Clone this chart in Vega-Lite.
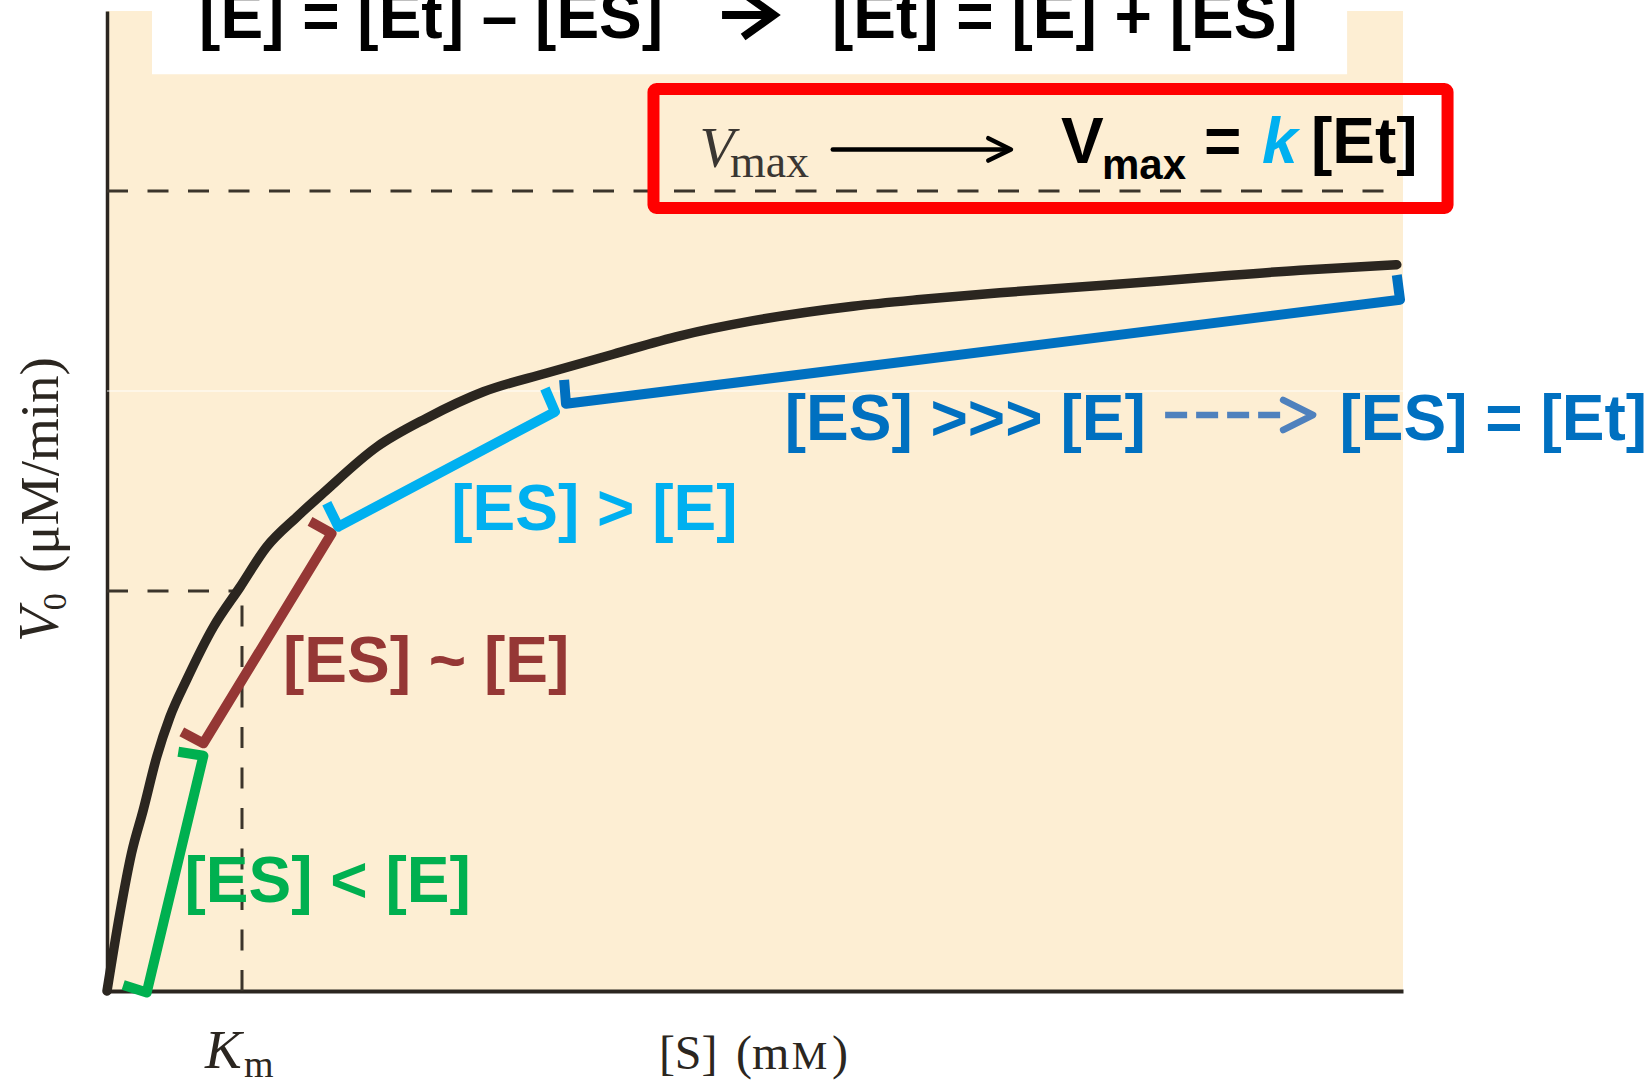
{
  "$schema": "https://vega.github.io/schema/vega-lite/v6.json",
  "width": 1296,
  "height": 980,
  "autosize": "none",
  "padding": {"left": 107, "top": 11, "right": 247, "bottom": 91},
  "background": "#ffffff",
  "config": {"view": {"stroke": null, "fill": "#fdeed3"}},
  "datasets": {
    "curve": [
      {"s": 0, "v": 0}, {"s": 0.48, "v": 9.75}, {"s": 0.91, "v": 17.25}, {"s": 1.34, "v": 22.6},
      {"s": 1.84, "v": 29.25}, {"s": 2.33, "v": 34.25}, {"s": 2.95, "v": 38.9}, {"s": 3.94, "v": 45.5},
      {"s": 4.93, "v": 50.5}, {"s": 5.91, "v": 55.5}, {"s": 7.03, "v": 59.25}, {"s": 8.01, "v": 62.25},
      {"s": 9.99, "v": 68.0}, {"s": 11.84, "v": 71.6}, {"s": 13.94, "v": 74.9}, {"s": 16.29, "v": 77.25},
      {"s": 18.75, "v": 79.6}, {"s": 21.22, "v": 81.9}, {"s": 23.94, "v": 83.79}, {"s": 27.63, "v": 85.6},
      {"s": 30.11, "v": 86.44}, {"s": 33.07, "v": 87.28}, {"s": 36.78, "v": 88.19}, {"s": 40.48, "v": 89.15},
      {"s": 44.19, "v": 90.1}, {"s": 47.77, "v": 90.79}
    ],
    "brackets": [
      {"phase": "low", "o": 1, "s": 0.6, "v": 0.75},
      {"phase": "low", "o": 2, "s": 1.47, "v": -0.2},
      {"phase": "low", "o": 3, "s": 3.57, "v": 29.4},
      {"phase": "low", "o": 4, "s": 2.64, "v": 29.9},
      {"phase": "near", "o": 1, "s": 2.77, "v": 32.4},
      {"phase": "near", "o": 2, "s": 3.57, "v": 30.96},
      {"phase": "near", "o": 3, "s": 8.32, "v": 57.2},
      {"phase": "near", "o": 4, "s": 7.52, "v": 58.7},
      {"phase": "high", "o": 1, "s": 8.14, "v": 60.96},
      {"phase": "high", "o": 2, "s": 8.57, "v": 58.04},
      {"phase": "high", "o": 3, "s": 16.59, "v": 72.4},
      {"phase": "high", "o": 4, "s": 16.22, "v": 75.3},
      {"phase": "sat", "o": 1, "s": 16.93, "v": 76.4},
      {"phase": "sat", "o": 2, "s": 17.0, "v": 73.4},
      {"phase": "sat", "o": 3, "s": 47.89, "v": 86.4},
      {"phase": "sat", "o": 4, "s": 47.77, "v": 89.5}
    ],
    "guides": [
      {"kind": "seam", "s": 0, "v": 75, "s2": 48, "v2": 75},
      {"kind": "dash", "s": 0, "v": 100, "s2": 48, "v2": 100},
      {"kind": "dash", "s": 0, "v": 50, "s2": 5, "v2": 50},
      {"kind": "dash", "s": 5, "v": 0, "s2": 5, "v2": 50}
    ],
    "arrows": [
      {"arrow": "top", "part": "shaft", "o": 1, "s": 22.78, "v": 122},
      {"arrow": "top", "part": "shaft", "o": 2, "s": 24.5, "v": 122},
      {"arrow": "top", "part": "head", "o": 1, "s": 23.56, "v": 124.75},
      {"arrow": "top", "part": "head", "o": 2, "s": 24.7, "v": 122},
      {"arrow": "top", "part": "head", "o": 3, "s": 23.56, "v": 119.25},
      {"arrow": "box", "part": "shaft", "o": 1, "s": 26.88, "v": 105.2},
      {"arrow": "box", "part": "shaft", "o": 2, "s": 33.3, "v": 105.2},
      {"arrow": "box", "part": "head", "o": 1, "s": 32.64, "v": 106.6},
      {"arrow": "box", "part": "head", "o": 2, "s": 33.48, "v": 105.2},
      {"arrow": "box", "part": "head", "o": 3, "s": 32.64, "v": 103.8},
      {"arrow": "sat", "part": "shaft", "o": 1, "s": 39.19, "v": 72},
      {"arrow": "sat", "part": "shaft", "o": 2, "s": 43.45, "v": 72},
      {"arrow": "sat", "part": "head", "o": 1, "s": 43.56, "v": 73.875},
      {"arrow": "sat", "part": "head", "o": 2, "s": 44.67, "v": 72},
      {"arrow": "sat", "part": "head", "o": 3, "s": 43.56, "v": 70.125}
    ],
    "labels": [
      {"role": "bold", "phase": "low", "t": "[ES] < [E]", "s": 2.87, "v": 11.13},
      {"role": "bold", "phase": "near", "t": "[ES] ~ [E]", "s": 6.52, "v": 38.66},
      {"role": "bold", "phase": "high", "t": "[ES] > [E]", "s": 12.75, "v": 57.6},
      {"role": "bold", "phase": "sat", "t": "[ES] >>> [E]", "s": 25.1, "v": 68.9},
      {"role": "bold", "phase": "sat", "t": "[ES] = [Et]", "s": 45.65, "v": 68.9},
      {"role": "bold", "phase": "none", "t": "[E] = [Et] – [ES]", "s": 3.41, "v": 119.1},
      {"role": "bold", "phase": "none", "t": "[Et] = [E] + [ES]", "s": 26.85, "v": 119.1},
      {"role": "bold", "phase": "none", "t": "V", "s": 35.33, "v": 103.46},
      {"role": "bold", "phase": "none", "t": "=", "s": 40.63, "v": 103.46},
      {"role": "bold", "phase": "none", "t": "[Et]", "s": 44.59, "v": 103.46},
      {"role": "boldSub", "t": "max", "s": 36.85, "v": 101.5},
      {"role": "rate", "t": "k", "s": 42.78, "v": 103.46},
      {"role": "vmaxV", "t": "V", "s": 21.94, "v": 103.04},
      {"role": "vmaxSub", "t": "max", "s": 23.07, "v": 101.79},
      {"role": "kmK", "t": "K", "s": 3.63, "v": -9.63},
      {"role": "kmSub", "t": "m", "s": 5.07, "v": -10.75},
      {"role": "xTitle", "t": "[S]", "s": 20.44, "v": -9.75},
      {"role": "xTitle", "t": "(m", "s": 23.3, "v": -9.75},
      {"role": "xTitle", "t": ")", "s": 26.85, "v": -9.75},
      {"role": "xTitleSc", "t": "M", "s": 25.36, "v": -9.75},
      {"role": "yTitle", "t": "V", "s": -1.81, "v": 43.63},
      {"role": "yTitleSub", "t": "0", "s": -1.52, "v": 47.6},
      {"role": "yTitleUnit", "t": "(μM/min)", "s": -1.81, "v": 52.25}
    ]
  },
  "encoding": {
    "x": {
      "field": "s", "type": "quantitative",
      "scale": {"domain": [0, 48], "nice": false, "zero": false},
      "axis": {"domainColor": "#2b2620", "domainWidth": 4, "ticks": false, "labels": false, "grid": false, "title": null}
    },
    "y": {
      "field": "v", "type": "quantitative",
      "scale": {"domain": [0, 122.5], "nice": false, "zero": false},
      "axis": {"domainColor": "#2b2620", "domainWidth": 3.5, "ticks": false, "labels": false, "grid": false, "title": null}
    }
  },
  "layer": [
    {
      "data": {"name": "guides"},
      "transform": [{"filter": "datum.kind === 'seam'"}],
      "mark": {"type": "rule", "stroke": "#ffffff", "strokeWidth": 1.2, "opacity": 0.9},
      "encoding": {"x2": {"field": "s2"}, "y2": {"field": "v2"}}
    },
    {
      "data": {"name": "guides"},
      "transform": [{"filter": "datum.kind === 'dash'"}],
      "mark": {"type": "rule", "stroke": "#3b342b", "strokeWidth": 3, "strokeDash": [21, 19.5]},
      "encoding": {"x2": {"field": "s2"}, "y2": {"field": "v2"}}
    },
    {
      "data": {"name": "curve"},
      "mark": {"type": "line", "color": "#2b2620", "strokeWidth": 9.5, "strokeCap": "round", "strokeJoin": "round", "interpolate": "monotone"},
      "encoding": {}
    },
    {
      "data": {"name": "brackets"},
      "mark": {"type": "line", "strokeJoin": "round", "strokeCap": "butt"},
      "encoding": {
        "color": {
          "field": "phase", "type": "nominal", "legend": null,
          "scale": {"domain": ["low", "near", "high", "sat", "none"], "range": ["#00b050", "#953735", "#00b0f0", "#0070c0", "#000000"]}
        },
        "strokeWidth": {"value": 10},
        "order": {"field": "o"}
      }
    },
    {
      "data": {"values": [{"s": 1.667, "s2": 45.93, "v": 114.6, "v2": 124}]},
      "mark": {"type": "rect", "fill": "#ffffff"},
      "encoding": {"x2": {"field": "s2"}, "y2": {"field": "v2"}}
    },
    {
      "data": {"name": "labels"},
      "transform": [{"filter": "datum.role === 'bold'"}],
      "mark": {"type": "text", "font": "Liberation Sans", "fontWeight": "bold", "fontSize": 64, "align": "left", "baseline": "alphabetic"},
      "encoding": {
        "text": {"field": "t"},
        "color": {
          "field": "phase", "type": "nominal", "legend": null,
          "scale": {"domain": ["low", "near", "high", "sat", "none"], "range": ["#00b050", "#953735", "#00b0f0", "#0070c0", "#000000"]}
        }
      }
    },
    {
      "data": {"name": "labels"},
      "transform": [{"filter": "datum.role === 'boldSub'"}],
      "mark": {"type": "text", "font": "Liberation Sans", "fontWeight": "bold", "fontSize": 42, "align": "left", "baseline": "alphabetic", "color": "#000000"},
      "encoding": {"text": {"field": "t"}}
    },
    {
      "data": {"name": "labels"},
      "transform": [{"filter": "datum.role === 'rate'"}],
      "mark": {"type": "text", "font": "Liberation Sans", "fontWeight": "bold", "fontStyle": "italic", "fontSize": 64, "align": "left", "baseline": "alphabetic", "color": "#00b0f0"},
      "encoding": {"text": {"field": "t"}}
    },
    {
      "data": {"name": "labels"},
      "transform": [{"filter": "datum.role === 'vmaxV'"}],
      "mark": {"type": "text", "font": "Liberation Serif", "fontStyle": "italic", "fontSize": 57, "align": "left", "baseline": "alphabetic", "color": "#3a3632"},
      "encoding": {"text": {"field": "t"}}
    },
    {
      "data": {"name": "labels"},
      "transform": [{"filter": "datum.role === 'vmaxSub'"}],
      "mark": {"type": "text", "font": "Liberation Serif", "fontSize": 46, "align": "left", "baseline": "alphabetic", "color": "#3a3632"},
      "encoding": {"text": {"field": "t"}}
    },
    {
      "data": {"name": "labels"},
      "transform": [{"filter": "datum.role === 'kmK'"}],
      "mark": {"type": "text", "font": "Liberation Serif", "fontStyle": "italic", "fontSize": 55, "align": "left", "baseline": "alphabetic", "color": "#2b2620"},
      "encoding": {"text": {"field": "t"}}
    },
    {
      "data": {"name": "labels"},
      "transform": [{"filter": "datum.role === 'kmSub'"}],
      "mark": {"type": "text", "font": "Liberation Serif", "fontSize": 38, "align": "left", "baseline": "alphabetic", "color": "#2b2620"},
      "encoding": {"text": {"field": "t"}}
    },
    {
      "data": {"name": "labels"},
      "transform": [{"filter": "datum.role === 'xTitle'"}],
      "mark": {"type": "text", "font": "Liberation Serif", "fontSize": 48, "align": "left", "baseline": "alphabetic", "color": "#2b2620"},
      "encoding": {"text": {"field": "t"}}
    },
    {
      "data": {"name": "labels"},
      "transform": [{"filter": "datum.role === 'xTitleSc'"}],
      "mark": {"type": "text", "font": "Liberation Serif", "fontSize": 40, "align": "left", "baseline": "alphabetic", "color": "#2b2620"},
      "encoding": {"text": {"field": "t"}}
    },
    {
      "data": {"name": "labels"},
      "transform": [{"filter": "datum.role === 'yTitle'"}],
      "mark": {"type": "text", "font": "Liberation Serif", "fontStyle": "italic", "fontSize": 56, "angle": 270, "align": "left", "baseline": "alphabetic", "color": "#2b2620"},
      "encoding": {"text": {"field": "t"}}
    },
    {
      "data": {"name": "labels"},
      "transform": [{"filter": "datum.role === 'yTitleSub'"}],
      "mark": {"type": "text", "font": "Liberation Serif", "fontSize": 34, "angle": 270, "align": "left", "baseline": "alphabetic", "color": "#2b2620"},
      "encoding": {"text": {"field": "t"}}
    },
    {
      "data": {"name": "labels"},
      "transform": [{"filter": "datum.role === 'yTitleUnit'"}],
      "mark": {"type": "text", "font": "Liberation Serif", "fontSize": 55, "angle": 270, "align": "left", "baseline": "alphabetic", "color": "#2b2620"},
      "encoding": {"text": {"field": "t"}}
    },
    {
      "data": {"name": "arrows"},
      "transform": [{"filter": "datum.arrow === 'top'"}],
      "mark": {"type": "line", "color": "#000000", "strokeWidth": 8, "strokeJoin": "miter", "strokeCap": "butt"},
      "encoding": {"detail": {"field": "part"}, "order": {"field": "o"}}
    },
    {
      "data": {"name": "arrows"},
      "transform": [{"filter": "datum.arrow === 'box'"}],
      "mark": {"type": "line", "color": "#000000", "strokeWidth": 4.5, "strokeJoin": "round", "strokeCap": "round"},
      "encoding": {"detail": {"field": "part"}, "order": {"field": "o"}}
    },
    {
      "data": {"name": "arrows"},
      "transform": [{"filter": "datum.arrow === 'sat' && datum.part === 'shaft'"}],
      "mark": {"type": "line", "color": "#4f81bd", "strokeWidth": 6.5, "strokeDash": [22, 9], "strokeCap": "butt"},
      "encoding": {"order": {"field": "o"}}
    },
    {
      "data": {"name": "arrows"},
      "transform": [{"filter": "datum.arrow === 'sat' && datum.part === 'head'"}],
      "mark": {"type": "line", "color": "#4f81bd", "strokeWidth": 6.5, "strokeJoin": "round", "strokeCap": "round"},
      "encoding": {"order": {"field": "o"}}
    },
    {
      "data": {"values": [{"s": 20.24, "s2": 49.65, "v": 97.88, "v2": 112.75}]},
      "mark": {"type": "rect", "filled": false, "stroke": "#ff0000", "strokeWidth": 12, "cornerRadius": 3},
      "encoding": {"x2": {"field": "s2"}, "y2": {"field": "v2"}}
    }
  ]
}
